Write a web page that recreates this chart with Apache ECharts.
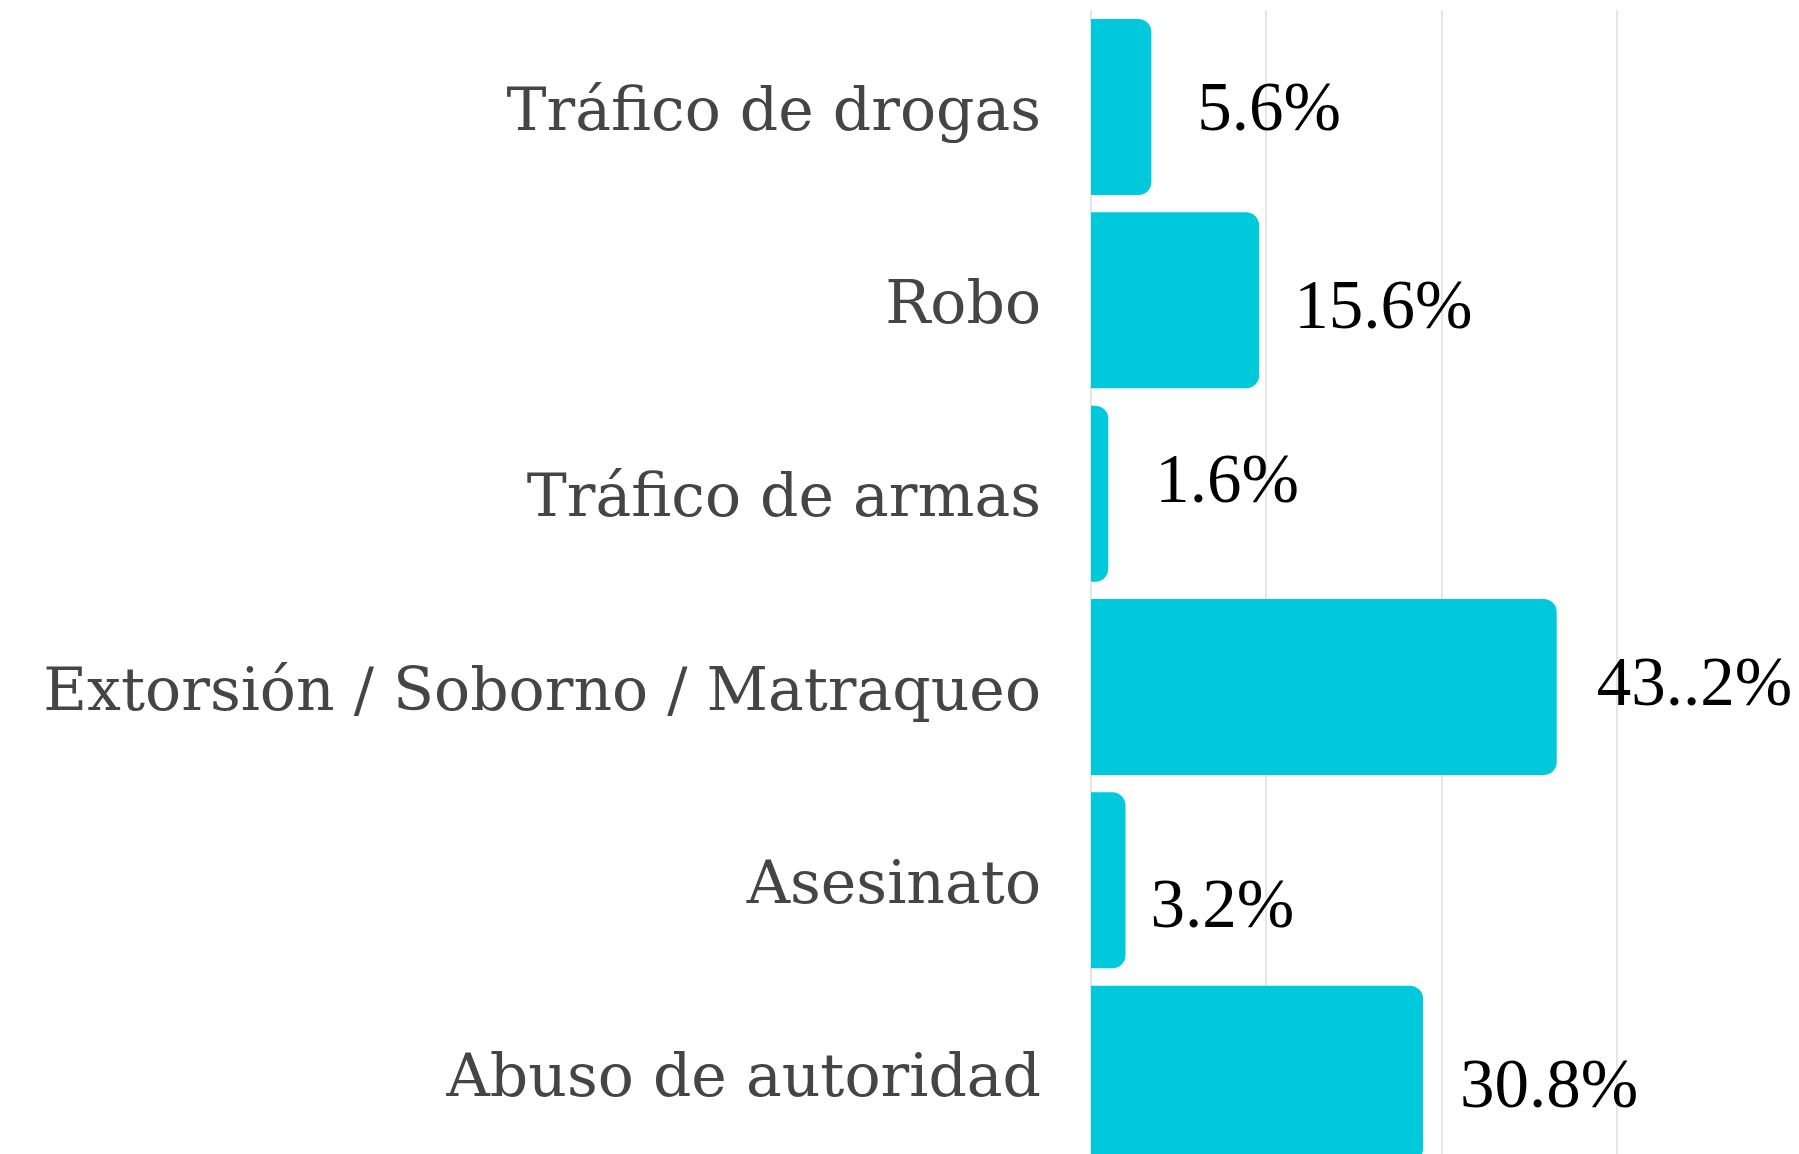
<!DOCTYPE html>
<html>
<head>
<meta charset="utf-8">
<script src="https://cdn.jsdelivr.net/npm/echarts@6/dist/echarts.min.js"></script>
<style>
html,body{margin:0;padding:0;background:#fff;overflow:hidden;}
#chart{width:1799px;height:1180px;}
</style>
</head>
<body>
<div id="chart"></div>
<script>
const categories = ["Tráfico de drogas", "Robo", "Tráfico de armas", "Extorsión / Soborno / Matraqueo", "Asesinato", "Abuso de autoridad"];
const values = [5.6, 15.6, 1.6, 43.2, 3.2, 30.8];
const valueLabels = ["5.6%", "15.6%", "1.6%", "43..2%", "3.2%", "30.8%"];
// small per-label nudges (style only), relative to library-placed label
const labelNudge = [[8, 5], [-3, 10], [9, -10], [2, 0], [-13, 29], [-1, 15]];

const chart = echarts.init(document.getElementById('chart'), null, {renderer: 'canvas'});
chart.setOption({
  animation: false,
  backgroundColor: '#ffffff',
  grid: {left: 1091, top: 10.35, width: 700.7, height: 1160, containLabel: false},
  xAxis: {
    type: 'value', min: 0, max: 65, interval: 16.25,
    axisLabel: {show: false}, axisLine: {show: false}, axisTick: {show: false},
    splitLine: {show: true, showMaxLine: false, lineStyle: {color: '#dcdcdc', width: 1.5}}
  },
  yAxis: {
    type: 'category', inverse: true, data: categories,
    axisLine: {show: false}, axisTick: {show: false},
    axisLabel: {fontFamily: 'DejaVu Serif', fontSize: 60, color: '#454545', margin: 50,
      verticalAlign: 'top', lineHeight: 14}
  },
  series: [{
    type: 'bar',
    barWidth: 176,
    data: values.map((v, i) => ({value: v, label: {offset: labelNudge[i]}})),
    itemStyle: {color: '#00c9dc', borderRadius: [0, 13, 13, 0]},
    label: {
      show: true, position: 'right', distance: 38,
      formatter: p => valueLabels[p.dataIndex],
      fontFamily: 'Liberation Serif', fontSize: 69, color: '#000000'
    }
  }]
});
</script>
</body>
</html>
